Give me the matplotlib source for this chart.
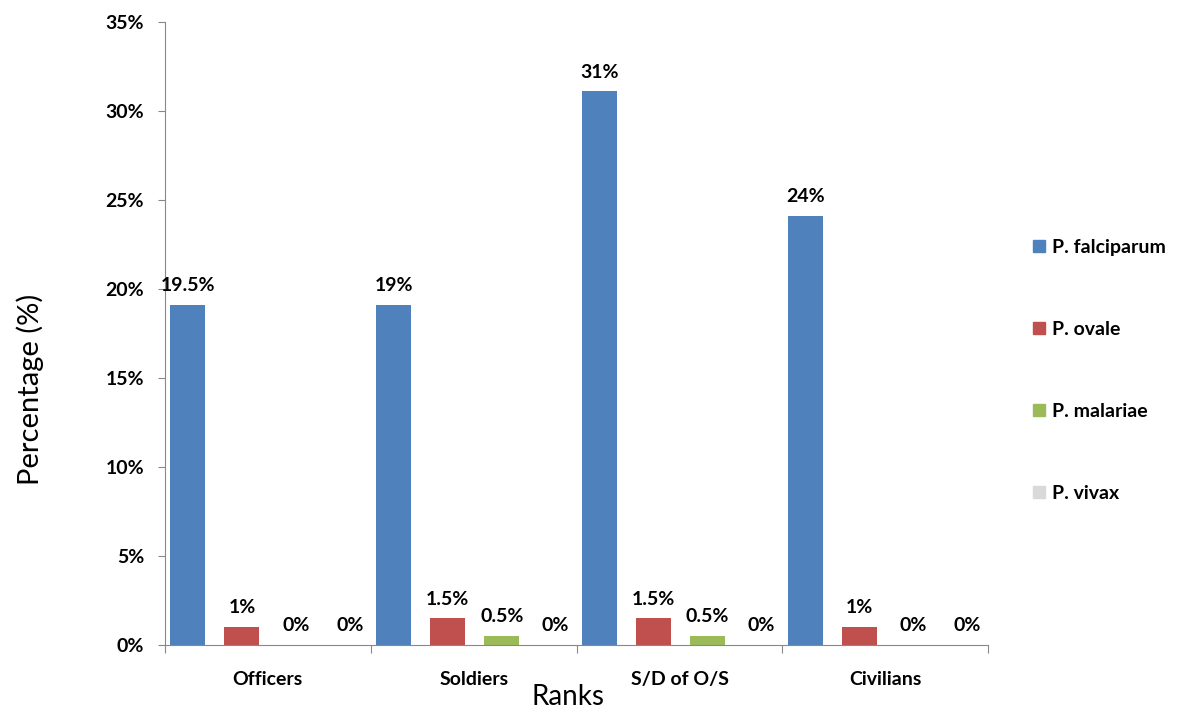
import numpy as np
import matplotlib.pyplot as plt
from matplotlib.patches import Patch

plt.rcParams['font.family'] = ['Lato', 'DejaVu Sans']

ranks = ["Officers", "Soldiers", "S/D of O/S", "Civilians"]
species = ["P. falciparum", "P. ovale", "P. malariae", "P. vivax"]
colors = ["#4F81BD", "#C0504D", "#9BBB59", "#D9D9D9"]

falciparum = [19.1, 19.1, 31.1, 24.1]
ovale = [1.0, 1.5, 1.5, 1.0]
malariae = [0.0, 0.5, 0.5, 0.0]
vivax = [0.0, 0.0, 0.0, 0.0]
series = [falciparum, ovale, malariae, vivax]

labels = [["19.5%", "19%", "31%", "24%"],
          ["1%", "1.5%", "1.5%", "1%"],
          ["0%", "0.5%", "0.5%", "0%"],
          ["0%", "0%", "0%", "0%"]]

fig = plt.figure(figsize=(11.78, 7.13), dpi=100)
ax = fig.add_axes([0.140, 0.0954, 0.699, 0.874])

x = np.arange(len(ranks))
offsets = [-0.388, -0.126, 0.136, 0.398]
width = 0.17
for j in range(len(series)):
    vals = series[j]
    ax.bar(x + offsets[j], vals, width, color=colors[j], label=species[j])
    for i in range(len(ranks)):
        ax.text(x[i] + offsets[j], vals[i] + 0.6, labels[j][i],
                ha='center', va='bottom', fontsize=14, fontweight='bold')

ax.set_xlim(-0.5, len(ranks) - 0.5)
ax.set_ylim(0, 35)
ax.set_yticks(np.arange(0, 36, 5))
ax.set_yticklabels([f"{v}%" for v in range(0, 36, 5)], fontsize=14, fontweight='bold')
ax.set_xticks(np.arange(-0.5, len(ranks), 1))
ax.set_xticklabels([])
ax.set_xticks(x, minor=True)
ax.set_xticklabels(ranks, minor=True, fontsize=14, fontweight='bold')
ax.tick_params(axis='x', which='minor', length=0, pad=19)
ax.tick_params(axis='x', which='major', length=6, color='#888888')
ax.tick_params(axis='y', length=5, color='#888888', pad=10)
for s in ['top', 'right']:
    ax.spines[s].set_visible(False)
for s in ['left', 'bottom']:
    ax.spines[s].set_color('#888888')

ax.set_ylabel("Percentage (%)", fontsize=21)
ax.yaxis.set_label_coords(-0.147, 0.41)
ax.set_xlabel("Ranks", fontsize=20)
ax.xaxis.set_label_coords(0.49, -0.063)

handles = [Patch(color=c) for c in colors]
leg = fig.legend(handles, species, loc='upper left', bbox_to_anchor=(0.862, 0.69),
                 frameon=False, handlelength=0.6, handleheight=0.6, handletextpad=0.4,
                 labelspacing=3.35, prop={'size': 14, 'weight': 'bold'})

fig.savefig("out.png", dpi=100)
